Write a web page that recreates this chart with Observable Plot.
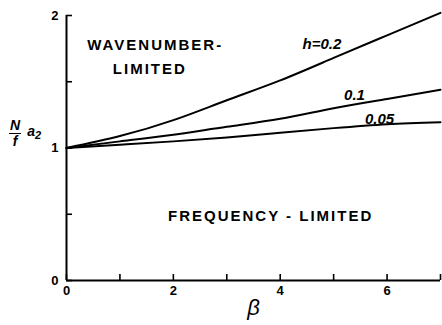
<!DOCTYPE html>
<html>
<head>
<meta charset="utf-8">
<script src="https://cdn.jsdelivr.net/npm/d3@7"></script>
<script src="https://cdn.jsdelivr.net/npm/@observablehq/plot@0.6"></script>
<style>
  html, body { margin: 0; padding: 0; background: #fff; }
  #chart { position: relative; width: 442px; height: 325px; }
  #ylabel {
    position: absolute; left: 9px; top: 118px;
    display: flex; align-items: center;
    font-family: "Liberation Sans", Arial, sans-serif;
    font-style: italic; font-weight: bold; font-size: 14px; color: #000;
  }
  #ylabel .frac { display: flex; flex-direction: column; align-items: center; line-height: 15px; }
  #ylabel .frac .num { border-bottom: 1.8px solid #000; padding: 0 1px; }
  #ylabel .frac .den { padding-top: 0; }
  #ylabel .a { margin-left: 6px; margin-top: -4px; }
  #ylabel sub { font-size: 11px; vertical-align: -3px; }
</style>
</head>
<body>
<div id="chart"><div id="ylabel"><span class="frac"><span class="num">N</span><span class="den">f</span></span><span class="a">a<sub>2</sub></span></div></div>
<script>
// Stability parameter β along the horizontal axis
const beta = [0, 1, 2, 3, 4, 5, 6, 7];
// N a2 / f for each bottom-slope value h
const h020 = [1.00, 1.09, 1.21, 1.36, 1.51, 1.68, 1.85, 2.02];
const h010 = [1.00, 1.05, 1.10, 1.16, 1.22, 1.30, 1.37, 1.44];
const h005 = [1.00, 1.025, 1.05, 1.08, 1.115, 1.15, 1.18, 1.195];

const xTicks = [0, 1, 2, 3, 4, 5, 6, 7];
const xTickLabels = [0, 2, 4, 6];
const yTicks = [0, 0.5, 1, 1.5, 2];
const yTickLabels = [0, 1, 2];

// Curve labels
const curveLabelText = ["h=0.2", "0.1", "0.05"];
const curveLabelBeta = [4.78, 5.39, 5.86];
const curveLabelValue = [1.78, 1.40, 1.22];

// Region labels
const regionText = ["WAVENUMBER-", "LIMITED", "FREQUENCY - LIMITED"];
const regionBeta = [1.66, 1.56, 3.82];
const regionValue = [1.775, 1.595, 0.483];

const series = [
  {h: "0.2", v: h020},
  {h: "0.1", v: h010},
  {h: "0.05", v: h005}
];
const rows = series.flatMap(s => beta.map((b, i) => ({beta: b, value: s.v[i], h: s.h})));
const curveLabels = curveLabelText.map((t, i) => ({text: t, beta: curveLabelBeta[i], value: curveLabelValue[i]}));
const regions = regionText.map((t, i) => ({text: t, beta: regionBeta[i], value: regionValue[i]}));

const font = "'Liberation Sans', Arial, sans-serif";
const intFormat = d3.format("d");

const chart = Plot.plot({
  width: 442,
  height: 325,
  marginLeft: 66,
  marginRight: 2,
  marginTop: 15,
  marginBottom: 45,
  style: {fontFamily: font, fontSize: "12px", color: "#000", background: "#fff", overflow: "visible"},
  x: {domain: [0, 7]},
  y: {domain: [0, 2]},
  marks: [
    // inward tick marks
    Plot.axisX({ticks: xTicks, tickSize: -6, tickFormat: () => "", label: null, strokeWidth: 1.6}),
    Plot.axisY({ticks: yTicks, tickSize: -6, tickFormat: () => "", label: null, strokeWidth: 1.6}),
    // tick labels
    Plot.axisX({ticks: xTickLabels, tickSize: 0, tickPadding: 5, tickFormat: intFormat, label: null, fontWeight: "bold", fontSize: 13}),
    Plot.axisY({ticks: yTickLabels, tickSize: 0, tickPadding: 8, tickFormat: intFormat, label: null, fontWeight: "bold", fontSize: 13}),
    // axis lines
    Plot.ruleX([0], {strokeWidth: 2}),
    Plot.ruleY([0], {strokeWidth: 2}),
    // curves
    Plot.line(rows, {x: "beta", y: "value", z: "h", curve: "natural", stroke: "#000", strokeWidth: 2}),
    // curve labels
    Plot.text(curveLabels, {x: "beta", y: "value", text: "text", fontStyle: "italic", fontWeight: "bold", fontSize: 15, fill: "#000"}),
    // region labels
    Plot.text(regions, {x: "beta", y: "value", text: "text", fontWeight: "bold", fontSize: 15, fill: "#000"}),
    // β axis title
    Plot.text(["β"], {frameAnchor: "bottom", dy: 34, fontStyle: "italic", fontSize: 22, fill: "#000"})
  ]
});
document.getElementById("chart").prepend(chart);
// widen letter spacing on region labels
d3.select(chart).selectAll("text").filter(function () {
  return regionText.includes(this.textContent);
}).style("letter-spacing", "2px");
</script>
</body>
</html>
